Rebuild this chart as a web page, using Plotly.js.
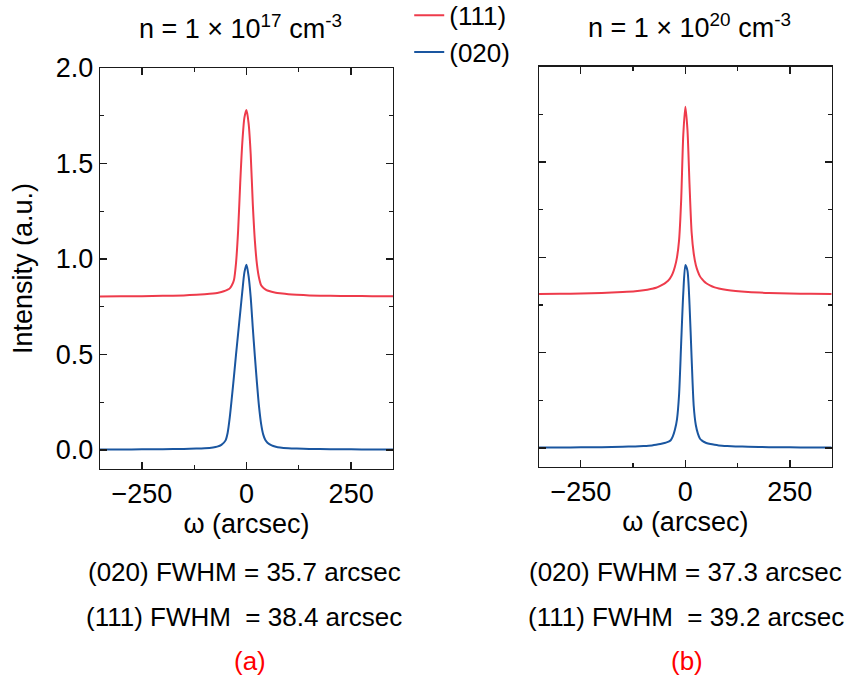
<!DOCTYPE html>
<html>
<head>
<meta charset="utf-8">
<script src="https://cdn.plot.ly/plotly-3.0.1.min.js"></script>
<style>
html,body{margin:0;padding:0;background:#fff;}
#chart{width:849px;height:681px;}
</style>
</head>
<body>
<div id="chart"></div>
<script>
// omega (arcsec) sample positions
const omega = [-350,-300,-250,-200,-150,-120,-100,-80,-70,-60,-50,-45,-40,-35,-30,-25,-20,-15,-10,-5,0,5,10,15,20,25,30,35,40,45,50,60,70,80,100,120,150,200,250,300,350];

// (a) n = 1e17 cm^-3
const int111_a = [0.804,0.805,0.805,0.807,0.809,0.812,0.815,0.819,0.822,0.827,0.834,0.839,0.846,0.862,0.89,0.98,1.15,1.40,1.61,1.74,1.78,1.71,1.55,1.29,1.095,0.97,0.90,0.862,0.849,0.841,0.835,0.828,0.823,0.82,0.815,0.812,0.809,0.807,0.806,0.805,0.805];
const int020_a = [0.002,0.002,0.003,0.004,0.005,0.007,0.009,0.013,0.017,0.026,0.05,0.09,0.17,0.275,0.385,0.50,0.61,0.72,0.83,0.93,0.97,0.91,0.80,0.64,0.49,0.35,0.225,0.135,0.08,0.052,0.038,0.024,0.017,0.013,0.009,0.007,0.005,0.004,0.003,0.002,0.002];

// (b) n = 1e20 cm^-3
const int111_b = [0.808,0.809,0.81,0.813,0.818,0.822,0.827,0.835,0.84,0.85,0.862,0.87,0.88,0.895,0.917,0.95,1.00,1.09,1.30,1.64,1.79,1.67,1.38,1.13,1.02,0.96,0.925,0.90,0.885,0.873,0.864,0.851,0.842,0.836,0.828,0.823,0.818,0.813,0.81,0.809,0.808];
const int020_b = [0.002,0.002,0.003,0.004,0.006,0.008,0.01,0.013,0.016,0.02,0.026,0.029,0.033,0.04,0.06,0.095,0.15,0.28,0.55,0.81,0.96,0.93,0.75,0.47,0.22,0.12,0.075,0.048,0.038,0.031,0.026,0.02,0.016,0.013,0.01,0.008,0.006,0.004,0.003,0.002,0.002];

const seriesNames = ['(111)', '(020)'];
const panelTitles = ['n = 1 × 10<sup>17</sup> cm<sup>-3</sup>', 'n = 1 × 10<sup>20</sup> cm<sup>-3</sup>'];
const fwhm020 = ['35.7', '37.3'];
const fwhm111 = ['38.4', '39.2'];
const panelLabels = ['(a)', '(b)'];
const xTitle = 'ω (arcsec)';
const yTitle = 'Intensity (a.u.)';

const RED = '#ee3b4b';
const BLUE = '#1a56a0';
const FONT = 'Liberation Sans, Arial, Helvetica, sans-serif';
const AX = '#1a1a1a';

function line(x, y, color, name, xa, ya, show) {
  return {x: x, y: y, type: 'scatter', mode: 'lines', name: name,
    line: {color: color, width: 2, shape: 'spline', smoothing: 0.7},
    xaxis: xa, yaxis: ya, showlegend: show, hoverinfo: 'skip'};
}

const traces = [
  line(omega, int111_a, RED, seriesNames[0], 'x', 'y', true),
  line(omega, int020_a, BLUE, seriesNames[1], 'x', 'y', true),
  line(omega, int111_b, RED, seriesNames[0], 'x2', 'y2', false),
  line(omega, int020_b, BLUE, seriesNames[1], 'x2', 'y2', false)
];

function xAxis(domain, anchor) {
  return {domain: domain, anchor: anchor, range: [-350, 350], tick0: 0, dtick: 250,
    showline: true, linecolor: AX, linewidth: 1.3, mirror: 'ticks',
    ticks: 'inside', ticklen: 7, tickwidth: 1.3, tickcolor: AX,
    minor: {dtick: 125, tick0: 0, ticks: 'inside', ticklen: 4, tickwidth: 1.3, tickcolor: AX},
    showgrid: false, zeroline: false, automargin: false,
    tickfont: {family: FONT, size: 27, color: '#000'},
    title: {text: xTitle, font: {family: FONT, size: 27, color: '#000'}, standoff: 6}};
}
function yAxis(domain, anchor, labels) {
  return {domain: domain, anchor: anchor, range: [-0.1, 2.0], tick0: 0, dtick: 0.5, tickformat: '.1f',
    showline: true, linecolor: AX, linewidth: 1.3, mirror: 'ticks',
    ticks: 'inside', ticklen: 7, tickwidth: 1.3, tickcolor: AX,
    minor: {dtick: 0.25, tick0: 0, ticks: 'inside', ticklen: 4, tickwidth: 1.3, tickcolor: AX},
    showgrid: false, zeroline: false, automargin: false, showticklabels: labels,
    tickfont: {family: FONT, size: 27, color: '#000'},
    title: labels ? {text: yTitle, font: {family: FONT, size: 27, color: '#000'}, standoff: 15} : {text: ''}};
}

function ann(text, x, y, color, size) {
  return {text: text, x: x, y: y, xref: 'paper', yref: 'paper', xanchor: 'center', yanchor: 'middle',
    showarrow: false, font: {family: FONT, size: size || 26, color: color || '#000'}};
}

const layout = {
  width: 849, height: 681,
  margin: {l: 0, r: 0, t: 0, b: 0, autoexpand: false},
  paper_bgcolor: '#fff', plot_bgcolor: '#fff',
  font: {family: FONT, color: '#000'},
  xaxis: xAxis([0.1178, 0.4629], 'y'),
  yaxis: yAxis([0.3113, 0.9001], 'x', true),
  xaxis2: xAxis([0.6349, 0.9796], 'y2'),
  yaxis2: yAxis([0.3143, 0.902], 'x2', false),
  showlegend: true,
  legend: {x: 0.482, y: 1.012, xanchor: 'left', yanchor: 'top', bgcolor: 'rgba(0,0,0,0)',
    font: {family: FONT, size: 26, color: '#000'}, itemwidth: 30, tracegroupgap: 0},
  annotations: [
    ann(panelTitles[0], 0.2833, 0.9604, '#000', 27),
    ann(panelTitles[1], 0.8127, 0.9618, '#000', 27),
    ann('(020) FWHM = ' + fwhm020[0] + ' arcsec', 0.2874, 0.160),
    ann('(111) FWHM\u00a0 = ' + fwhm111[0] + ' arcsec', 0.2874, 0.094),
    ann(panelLabels[0], 0.2945, 0.0294, '#ff0000'),
    ann('(020) FWHM = ' + fwhm020[1] + ' arcsec', 0.808, 0.160),
    ann('(111) FWHM\u00a0 = ' + fwhm111[1] + ' arcsec', 0.808, 0.094),
    ann(panelLabels[1], 0.809, 0.0294, '#ff0000')
  ]
};

Plotly.newPlot('chart', traces, layout, {displayModeBar: false, staticPlot: true});
</script>
</body>
</html>
